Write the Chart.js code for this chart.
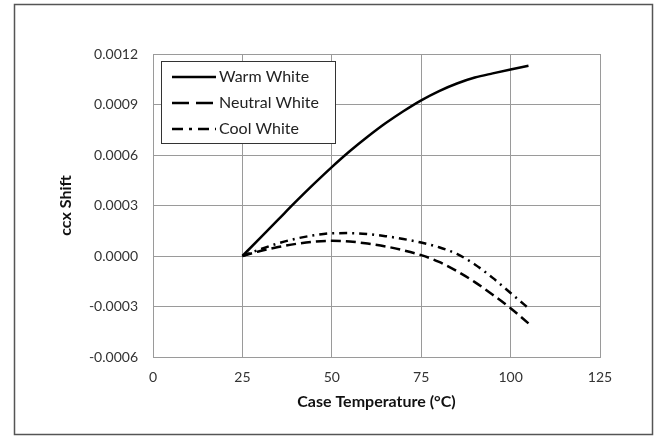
<!DOCTYPE html>
<html>
<head>
<meta charset="utf-8">
<script src="https://cdn.jsdelivr.net/npm/chart.js@4"></script>
<style>
  html, body { margin: 0; padding: 0; background: #fff; }
  #wrap { width: 657px; height: 436px; }
</style>
</head>
<body>
<div id="wrap"><canvas id="chart" width="657" height="436"></canvas></div>
<script>
// data
const temps = [25, 30, 35, 40, 45, 50, 55, 60, 65, 70, 75, 80, 85, 90, 95, 100, 105];
const warmShift = [0, 0.000108, 0.000216, 0.000324, 0.000428, 0.000528, 0.000622, 0.000708, 0.000788, 0.00086, 0.000925, 0.00098, 0.001025, 0.00106, 0.001085, 0.001108, 0.00113];
const neutralShift = [0, 0.00003, 0.000053, 0.000072, 0.000085, 0.00009, 0.000086, 0.000074, 0.000057, 0.000034, 0.000005, -0.000035, -0.00009, -0.000155, -0.00023, -0.00031, -0.0004];
const coolShift = [0, 0.00004, 0.000075, 0.000103, 0.000123, 0.000135, 0.000136, 0.00013, 0.000118, 0.000101, 0.00008, 0.000052, 0.000012, -0.00005, -0.00013, -0.00022, -0.00031];
const xTicks = [0, 25, 50, 75, 100, 125];
const seriesNames = ['Warm White', 'Neutral White', 'Cool White'];

const FONT = 'Lato, "Open Sans", sans-serif';
const GRID = '#9a9a9a';

function pts(vals) {
    return temps.map((t, i) => ({ x: t, y: vals[i] }));
}

// white page with the outer frame
const frame = {
    id: 'frame',
    beforeDraw(chart) {
        const c = chart.ctx;
        c.save();
        c.fillStyle = '#fff';
        c.fillRect(0, 0, chart.width, chart.height);
        c.strokeStyle = '#555';
        c.lineWidth = 1.5;
        c.strokeRect(14.5, 4.5, 638, 430);
        c.restore();
    }
};

// boxed legend in the top-left of the plot
const boxLegend = {
    id: 'boxLegend',
    afterDatasetsDraw(chart) {
        const c = chart.ctx;
        const a = chart.chartArea;
        const x0 = a.left + 8, y0 = a.top + 7, w = 174, h = 82;
        c.save();
        c.fillStyle = '#fff';
        c.fillRect(x0, y0, w, h);
        c.strokeStyle = '#333';
        c.lineWidth = 1;
        c.strokeRect(x0 + 0.5, y0 + 0.5, w, h);
        const dashes = [[], [17, 7], [11, 6, 3, 6]];
        c.font = '16px ' + FONT;
        c.textBaseline = 'middle';
        chart.data.datasets.forEach((ds, i) => {
            const y = y0 + 16 + i * 26;
            c.strokeStyle = '#000';
            c.lineWidth = 2.5;
            c.setLineDash(dashes[i]);
            c.beginPath();
            c.moveTo(x0 + 11, y);
            c.lineTo(x0 + 55, y);
            c.stroke();
            c.setLineDash([]);
            c.fillStyle = '#222';
            c.fillText(ds.label, x0 + 58, y);
        });
        c.restore();
    }
};

const ctx = document.getElementById('chart').getContext('2d');
new Chart(ctx, {
    type: 'line',
    data: {
        datasets: [
            { label: seriesNames[0], data: pts(warmShift), borderColor: '#000', borderWidth: 2.5 },
            { label: seriesNames[1], data: pts(neutralShift), borderColor: '#000', borderWidth: 2.5, borderDash: [10, 5] },
            { label: seriesNames[2], data: pts(coolShift), borderColor: '#000', borderWidth: 2.5, borderDash: [8, 5, 2, 5] }
        ]
    },
    options: {
        responsive: false,
        animation: false,
        events: [],
        layout: { padding: { top: 54, right: 57, bottom: 0, left: 0 } },
        elements: {
            point: { radius: 0 },
            line: { cubicInterpolationMode: 'monotone', borderCapStyle: 'butt' }
        },
        scales: {
            x: {
                type: 'linear',
                min: 0,
                max: 125,
                afterBuildTicks: s => { s.ticks = xTicks.map(v => ({ value: v })); },
                afterFit: s => { s.height = 79; },
                grid: { color: GRID, drawTicks: false },
                border: { color: GRID },
                ticks: { color: '#333', padding: 12, font: { family: FONT, size: 14 } },
                title: {
                    display: true,
                    text: 'Case Temperature (°C)',
                    color: '#111',
                    font: { family: FONT, size: 16, weight: 'bold' },
                    padding: { top: 0, bottom: 25 }
                }
            },
            y: {
                min: -0.0006,
                max: 0.0012,
                afterFit: s => { s.width = 153; },
                grid: { color: GRID, drawTicks: false },
                border: { color: GRID },
                ticks: {
                    stepSize: 0.0003,
                    color: '#333',
                    padding: 15,
                    font: { family: FONT, size: 14 },
                    callback: v => (Math.abs(v) < 1e-10 ? 0 : v).toFixed(4)
                },
                title: {
                    display: true,
                    text: 'ccx Shift',
                    color: '#111',
                    font: { family: FONT, size: 16, weight: 'bold' },
                    padding: { top: 56, bottom: 0 }
                }
            }
        },
        plugins: {
            legend: { display: false },
            tooltip: { enabled: false }
        }
    },
    plugins: [frame, boxLegend]
});
</script>
</body>
</html>
